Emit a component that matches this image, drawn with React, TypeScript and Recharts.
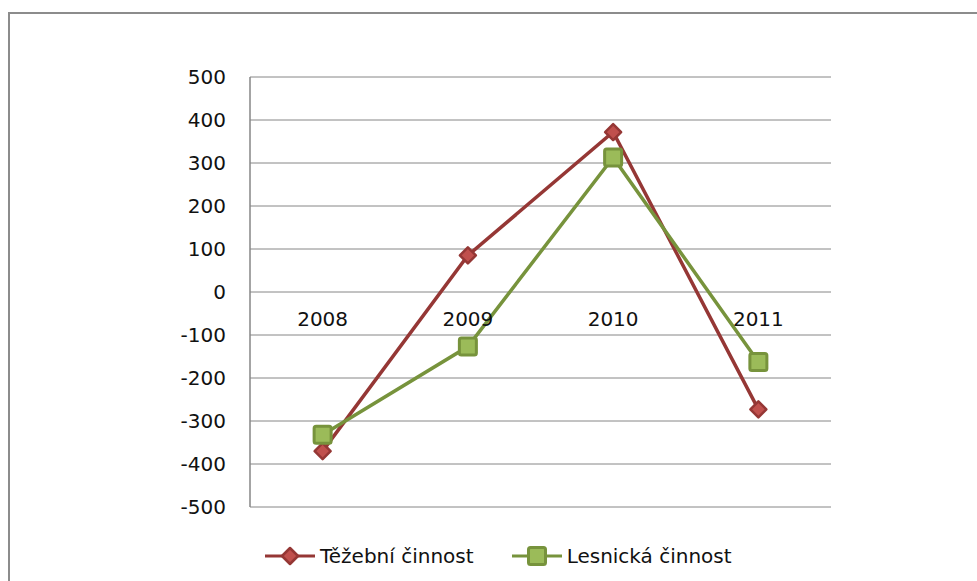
import React from "react"
import { LineChart, Line, XAxis, YAxis, CartesianGrid, ReferenceDot } from "recharts"

// values
const years = ["2008", "2009", "2010", "2011"]
const tezebni = [-370, 85, 372, -273]
const lesnicka = [-332, -127, 313, -163]
const yTicks = [-500, -400, -300, -200, -100, 0, 100, 200, 300, 400, 500]

const seriesNames = ["Těžební činnost", "Lesnická činnost"]

const data = years.map((year, i) => ({
  year,
  tezebni: tezebni[i],
  lesnicka: lesnicka[i],
}))

const FONT = "'DejaVu Sans', sans-serif"
const RED = "#953735"
const RED_FILL = "#c0504d"
const GREEN = "#77933c"
const GREEN_FILL = "#9bbb59"

const Diamond = (props: any) => {
  const { cx, cy } = props
  if (cx == null || cy == null) return null
  const s = 8
  return (
    <polygon
      points={`${cx},${cy - s} ${cx + s},${cy} ${cx},${cy + s} ${cx - s},${cy}`}
      fill={RED_FILL}
      stroke={RED}
      strokeWidth={2.5}
      strokeLinejoin="round"
    />
  )
}

const Square = (props: any) => {
  const { cx, cy } = props
  if (cx == null || cy == null) return null
  return (
    <rect x={cx - 8.5} y={cy - 8.5} width={17} height={17} rx={2} fill={GREEN_FILL} stroke={GREEN} strokeWidth={3} />
  )
}

function LegendItem({ name, kind }: { name: string; kind: "diamond" | "square" }) {
  return (
    <div style={{ display: "flex", alignItems: "center", marginRight: 38 }}>
      <svg width={50} height={22}>
        <line x1={0} y1={11} x2={50} y2={11} stroke={kind === "diamond" ? RED : GREEN} strokeWidth={3} />
        {kind === "diamond" ? <Diamond cx={25} cy={11} /> : <Square cx={25} cy={11} />}
      </svg>
      <span style={{ marginLeft: 5, fontFamily: FONT, fontSize: 20, color: "#111" }}>{name}</span>
    </div>
  )
}

export default function App() {
  return (
    <div
      style={{
        position: "fixed",
        left: 8,
        top: 12,
        width: 1000,
        height: 600,
        borderTop: "2px solid #8c8c8c",
        borderLeft: "2px solid #8c8c8c",
        background: "#fff",
      }}
    >
      <LineChart
        width={960}
        height={567}
        data={data}
        margin={{ top: 63, right: 139, left: 0, bottom: 74 }}
      >
        <CartesianGrid vertical={false} stroke="#868686" strokeWidth={1} />
        <XAxis dataKey="year" scale="band" hide />
        <YAxis
          type="number"
          domain={[-500, 500]}
          ticks={yTicks}
          interval={0}
          width={240}
          tickLine={false}
          tickSize={0}
          tickMargin={24}
          axisLine={{ stroke: "#868686", strokeWidth: 1.5 }}
          tick={{ fill: "#111", fontSize: 20, fontFamily: FONT }}
        />
        {years.map((y) => (
          <ReferenceDot
            key={y}
            x={y}
            y={0}
            r={0}
            fill="none"
            stroke="none"
            label={{ value: y, position: "bottom", offset: 20, fill: "#111", fontSize: 20, fontFamily: FONT }}
          />
        ))}
        <Line
          type="linear"
          dataKey="tezebni"
          name={seriesNames[0]}
          stroke={RED}
          strokeWidth={3.5}
          dot={<Diamond />}
          isAnimationActive={false}
        />
        <Line
          type="linear"
          dataKey="lesnicka"
          name={seriesNames[1]}
          stroke={GREEN}
          strokeWidth={3.5}
          dot={<Square />}
          isAnimationActive={false}
        />
      </LineChart>
      <div style={{ position: "absolute", left: 255, top: 530, display: "flex" }}>
        <LegendItem name={seriesNames[0]} kind="diamond" />
        <LegendItem name={seriesNames[1]} kind="square" />
      </div>
    </div>
  )
}
